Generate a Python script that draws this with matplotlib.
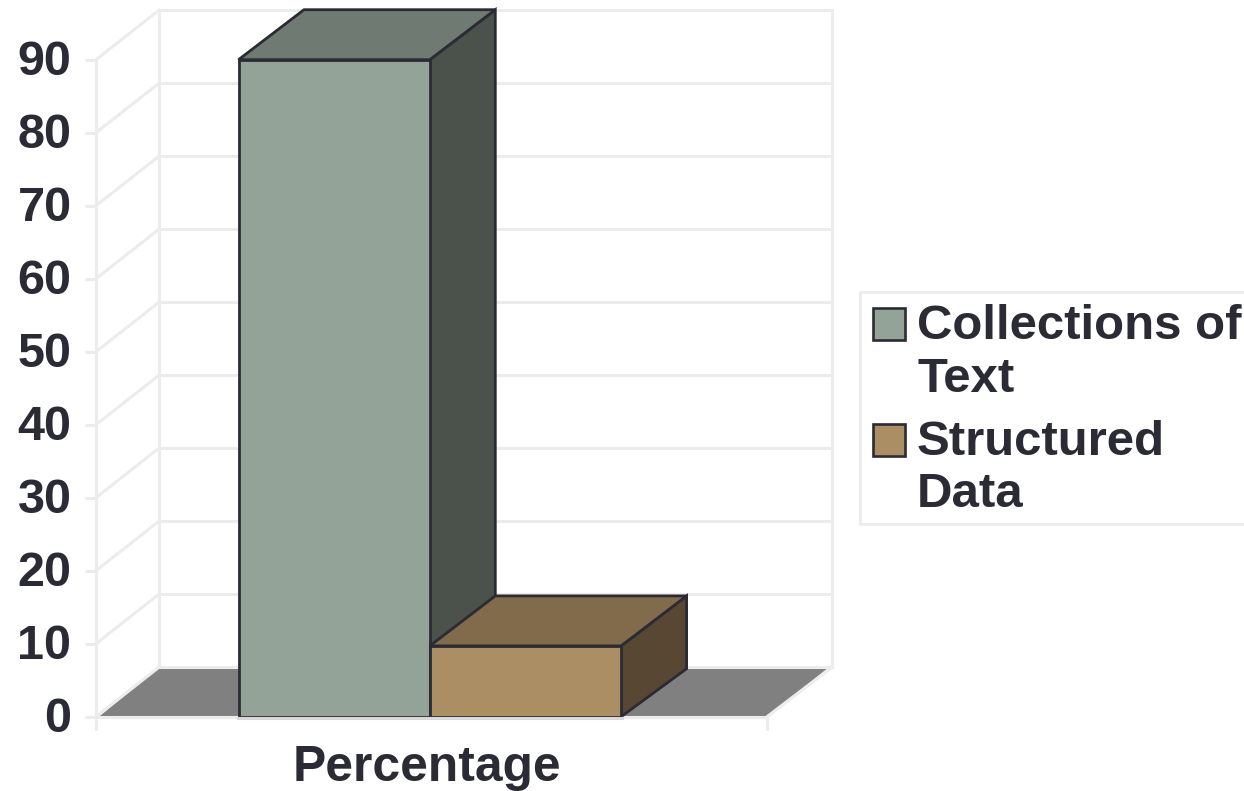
import matplotlib
matplotlib.use('Agg')
import matplotlib.pyplot as plt
from matplotlib.patches import Rectangle

plt.rcParams['font.family'] = ['Liberation Sans', 'DejaVu Sans']

series_names = ['Collections of\nText', 'Structured\nData']
values = [90, 9.7]
tick_values = [0, 10, 20, 30, 40, 50, 60, 70, 80, 90]
category = 'Percentage'

front_colors = ['#93a398', '#ab8e64']
side_colors = ['#4b524c', '#574733']
top_colors = ['#6f7a72', '#826b4b']
ink = '#2b2b36'
grid = '#ececec'

# px per value unit, everything on x is in image pixels
scale = 7.3
y0_px = 716.7
W, H = 1244, 791

fig = plt.figure(figsize=(W / 100, H / 100), dpi=100)
ax = fig.add_axes([0, 0, 1, 1])
ax.set_xlim(0, W)
ax.set_ylim((y0_px - H) / scale, y0_px / scale)
ax.axis('off')

# walls and floor
wall_dx = 63
wall_dy = 49.5 / scale
left = 96
right = 767
right_back = 832
top_val = tick_values[-1]

ax.fill([left + 3, right, right_back - 3, left + wall_dx],
        [0, 0, wall_dy, wall_dy], color='#808080', lw=0, zorder=1)

for v in tick_values:
    ax.plot([85, left], [v, v], color=grid, lw=2.2, zorder=2, solid_capstyle='butt')
    ax.plot([left, left + wall_dx], [v, v + wall_dy], color=grid, lw=2.2, zorder=2)
    ax.plot([left + wall_dx, right_back], [v + wall_dy, v + wall_dy], color=grid, lw=2.2, zorder=2)
    ax.text(71.5, v + 2.5 / scale, str(v), ha='right', va='center_baseline', fontsize=35,
            fontweight='bold', color=ink)

ax.plot([left, left], [-12 / scale, top_val], color=grid, lw=2.2, zorder=2)
ax.plot([left + wall_dx, left + wall_dx], [wall_dy, top_val + wall_dy], color=grid, lw=2.2, zorder=2)
ax.plot([right_back, right_back], [wall_dy, top_val + wall_dy], color=grid, lw=2.2, zorder=2)
ax.plot([left, right], [0, 0], color=grid, lw=2.2, zorder=2)
ax.plot([right, right], [-12 / scale, 0], color=grid, lw=2.2, zorder=2)
ax.plot([right, right_back], [0, wall_dy], color=grid, lw=2.2, zorder=2)

# the bars
bar_left = 238.5
bar_w = 191.3
depth_dx = 65.5
depth_dy = 50 / scale

for i, v in enumerate(values):
    x0 = bar_left + i * bar_w
    x1 = x0 + bar_w
    ax.fill([x1, x1 + depth_dx, x1 + depth_dx, x1], [0, 48 / scale, v + depth_dy, v],
            facecolor=side_colors[i], edgecolor=ink, lw=2, zorder=3 + i, joinstyle='miter')
    ax.fill([x0, x0 + depth_dx, x1 + depth_dx, x1], [v, v + depth_dy, v + depth_dy, v],
            facecolor=top_colors[i], edgecolor=ink, lw=2, zorder=3 + i, joinstyle='miter')
    ax.bar(x0, v, width=bar_w, align='edge', color=front_colors[i], edgecolor=ink, lw=2, zorder=3 + i)

ax.plot([bar_left - 1, bar_left + 2 * bar_w + 1], [-1 / scale, -1 / scale], color='#d8d8d8', lw=2.2, zorder=6)

ax.text(427, (y0_px - 781) / scale, category, ha='center', va='baseline',
        fontsize=35.8, fontweight='bold', color=ink)

# legend, drawn by hand so the box runs off the right edge like the original
def py(p):
    return (y0_px - p) / scale

ax.add_patch(Rectangle((860, py(524)), 400, (524 - 292) / scale, facecolor='white',
                       edgecolor=grid, lw=2.2, zorder=2, clip_on=True))
swatch_tops = [308, 424]
baselines = [[339, 392], [455, 507]]
for i, name in enumerate(series_names):
    ax.add_patch(Rectangle((873, py(swatch_tops[i] + 32)), 32, 32 / scale,
                           facecolor=front_colors[i], edgecolor=ink, lw=1.9, zorder=3))
    for line, base in zip(name.split('\n'), baselines[i]):
        ax.text(917, py(base), line, ha='left', va='baseline', fontsize=35.4,
                fontweight='bold', color=ink, zorder=4)

fig.savefig('out.png', dpi=100, facecolor='white')
